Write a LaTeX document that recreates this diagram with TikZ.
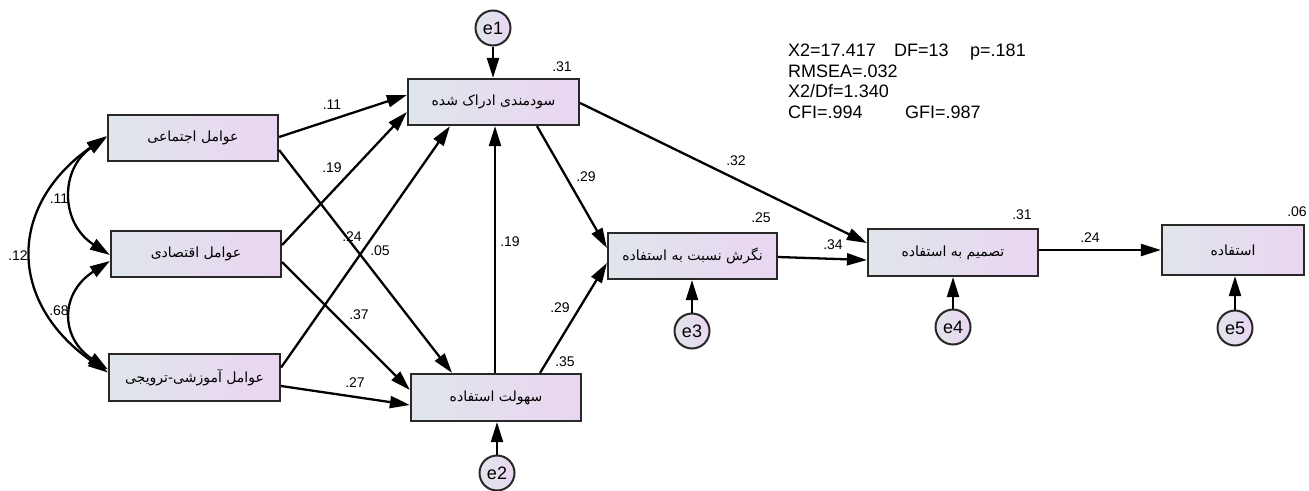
\documentclass[tikz,border=0pt]{standalone}
\usepackage{fontspec}
\setmainfont{Liberation Sans}
\newfontfamily\arabicfont[Script=Arabic]{DejaVu Sans}
\TeXXeTstate=1
\usetikzlibrary{arrows.meta,calc}
\definecolor{boxL}{RGB}{223,229,234}
\definecolor{boxR}{RGB}{234,214,242}
\definecolor{edgec}{RGB}{40,40,40}
\begin{document}
\begin{tikzpicture}[x=1pt,y=-1pt,
 var/.style={draw=edgec,line width=2.2pt,left color=boxL,right color=boxR,inner sep=0pt,minimum height=46pt,font=\fontsize{14}{16}\arabicfont},
 err/.style={circle,draw=edgec,line width=2pt,left color=boxL,right color=boxR,minimum size=35pt,inner sep=0pt,font=\fontsize{18}{20}\selectfont},
 arr/.style={line width=2.3pt,draw=black,-{Triangle[length=20pt,width=12pt]}},
 covarr/.style={line width=2.3pt,draw=black,{Triangle[length=20pt,width=12pt]}-{Triangle[length=20pt,width=12pt]}},
 lbl/.style={font=\fontsize{14}{16}\selectfont,inner sep=0pt},
 fitx/.style={font=\fontsize{18}{20}\selectfont,inner sep=0pt,anchor=base west}
]
\fill[white] (0,0) rectangle (1309,490);
\useasboundingbox (0,0) rectangle (1309,490);

% observed variables
\node[var,minimum width=170pt] (A) at (193,138) {\beginR عوامل اجتماعی\endR};
\node[var,minimum width=170pt] (B) at (196,254) {\beginR عوامل اقتصادی\endR};
\node[var,minimum width=171pt,minimum height=47pt] (C) at (194.5,377.5) {\beginR عوامل آموزشی-ترویجی\endR};
\node[var,minimum width=171pt] (PU) at (493.5,102) {\beginR سودمندی ادراک شده\endR};
\node[var,minimum width=170pt,minimum height=47pt] (EOU) at (496,397.5) {\beginR سهولت استفاده\endR};
\node[var,minimum width=169pt] (ATT) at (692.5,256) {\beginR نگرش نسبت به استفاده\endR};
\node[var,minimum width=170pt,minimum height=47pt] (INT) at (953,252.5) {\beginR تصمیم به استفاده\endR};
\node[var,minimum width=142pt,minimum height=50pt] (USE) at (1233,250) {\beginR استفاده\endR};

% error terms
\node[err] (e1) at (493,28) {e1};
\node[err] (e2) at (497,473) {e2};
\node[err] (e3) at (692,331) {e3};
\node[err] (e4) at (953,327) {e4};
\node[err] (e5) at (1235,328) {e5};

% error paths
\draw[arr] (e1.south) -- (e1.south |- PU.north);
\draw[arr] (e2.north) -- (e2.north |- EOU.south);
\draw[arr] (e3.north) -- (e3.north |- ATT.south);
\draw[arr] (e4.north) -- (e4.north |- INT.south);
\draw[arr] (e5.north) -- (e5.north |- USE.south);

% structural paths
\draw[arr] ([yshift=1pt]A.east) -- ([yshift=7pt]PU.west);
\draw[arr] ([yshift=9pt]B.east) -- ([yshift=-10pt]PU.west);
\draw[arr] ([yshift=10pt]C.east) -- ([xshift=-43.5pt]PU.south);
\draw[arr] ([yshift=-12pt]A.east) -- ([xshift=-44pt]EOU.north);
\draw[arr] ([yshift=-8pt]B.east) -- ([yshift=7.5pt]EOU.west);
\draw[arr] ([yshift=-8.5pt]C.east) -- ([yshift=-7.5pt]EOU.west);
\draw[arr] ([xshift=-1pt]EOU.north) -- ([xshift=-1pt]EOU.north |- PU.south);
\draw[arr] ([xshift=43.5pt]PU.south) -- ([yshift=8pt]ATT.west);
\draw[arr] ([xshift=44pt]EOU.north) -- ([yshift=-7pt]ATT.west);
\draw[arr] ([yshift=-1pt]PU.east) -- ([yshift=9.5pt]INT.west);
\draw[arr] ([yshift=-1pt]ATT.east) -- ([yshift=-7.5pt]INT.west);
\draw[arr] (USE.west -| INT.east) -- (USE.west);

% covariances
\draw[covarr] ([yshift=1pt]A.west) .. controls +(-47,32) and +(-50,-32) .. ([yshift=-1pt]B.west);
\draw[covarr] ([yshift=-7pt]B.west) .. controls +(-50,32) and +(-48,-32) .. ([yshift=8pt]C.west);
\draw[covarr] ([yshift=2pt]A.west) .. controls +(-100,70) and +(-100,-70) .. ([yshift=5pt]C.west);

% coefficient labels
\node[lbl] (l1) at (562,67) {.31};
\node[lbl] (l2) at (761,218) {.25};
\node[lbl] (l3) at (565,362) {.35};
\node[lbl] (l4) at (1022,215) {.31};
\node[lbl] (l5) at (1297,212) {.06};
\node[lbl] (l6) at (1090,238) {.24};
\node[lbl] (l7) at (833,245) {.34};
\node[lbl] (l8) at (736,161) {.32};
\node[lbl] (l9) at (586,177) {.29};
\node[lbl] (l10) at (510,242) {.19};
\node[lbl] (l11) at (560,308) {.29};
\node[lbl] (l12) at (332,105) {.11};
\node[lbl] (l13) at (332,168) {.19};
\node[lbl] (l14) at (352,237) {.24};
\node[lbl] (l15) at (380,251) {.05};
\node[lbl] (l16) at (359,315) {.37};
\node[lbl] (l17) at (355,383) {.27};
\node[lbl] (l18) at (59,199) {.11};
\node[lbl] (l19) at (18,256) {.12};
\node[lbl] (l20) at (59,311) {.68};

% fit indices
\node[fitx] (f1) at (788,56) {X2=17.417};
\node[fitx] (f2) at (894,56) {DF=13};
\node[fitx] (f3) at (970,56) {p=.181};
\node[fitx] (f4) at (788,77) {RMSEA=.032};
\node[fitx] (f5) at (788,97.5) {X2/Df=1.340};
\node[fitx] (f6) at (788,118) {CFI=.994};
\node[fitx] (f7) at (905,118) {GFI=.987};
\end{tikzpicture}
\end{document}
